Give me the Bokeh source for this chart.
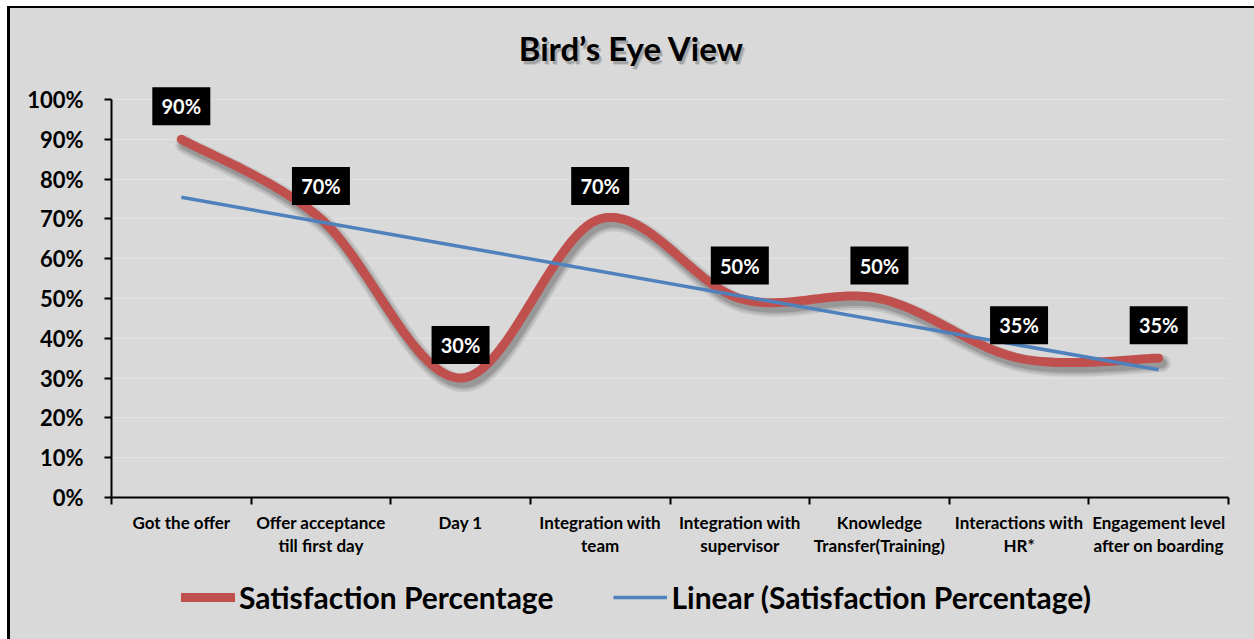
import numpy as np
from bokeh.plotting import figure
from bokeh.layouts import column
from bokeh.models import (ColumnDataSource, Range1d, FixedTicker, PrintfTickFormatter,
                          Legend, LegendItem)
from bokeh.core.properties import value
from bokeh.embed import file_html
from bokeh.resources import INLINE

# ---------------- data ----------------
categories = ["Got the offer", "Offer acceptance\ntill first day", "Day 1",
              "Integration with\nteam", "Integration with\nsupervisor",
              "Knowledge\nTransfer(Training)", "Interactions with\nHR*",
              "Engagement level\nafter on boarding"]
satisfaction = [90, 70, 30, 70, 50, 50, 35, 35]
y_ticks = [0, 10, 20, 30, 40, 50, 60, 70, 80, 90, 100]
series_names = ["Satisfaction Percentage", "Linear (Satisfaction Percentage)"]
title_text = "Bird\u2019s Eye View"

# ---------------- style ----------------
FONT = "Lato"
BG = "#D9D9D9"
RED = "#C0504D"
BLUE = "#4F81BD"

# canvas origin on the page (after css margin + border)
PAGE_OX, PAGE_OY = 10, 8
W = 1254 - PAGE_OX
SPLIT = 580                      # page y where the legend strip starts
H_MAIN = SPLIT - PAGE_OY
H_LEG = 639 - SPLIT
# plot frame (page px)
F_L, F_R, F_100, F_B = 111, 1228, 99, 497
n = len(categories)
PX_X = (F_R - F_L) / n          # px per category
PX_Y = (F_B - F_100) / 100.0     # px per percent


def px_to_x(px):
    return 0.5 + (px - F_L) / PX_X


def px_to_y(py):
    return (F_B - py) / PX_Y


x = np.arange(1, n + 1, dtype=float)
y = np.array(satisfaction, dtype=float)


def excel_smooth(xs, ys, steps=40):
    pts = np.column_stack([xs, ys])
    N = len(pts)
    out = []
    for i in range(N - 1):
        p0 = pts[i - 1] if i > 0 else pts[i]
        p1, p2 = pts[i], pts[i + 1]
        p3 = pts[i + 2] if i + 2 < N else pts[i + 1]
        c1 = p1 + (p2 - p0) / 6.0
        c2 = p2 - (p3 - p1) / 6.0
        t = np.linspace(0, 1, steps)[:, None]
        seg = (1 - t) ** 3 * p1 + 3 * (1 - t) ** 2 * t * c1 + 3 * (1 - t) * t ** 2 * c2 + t ** 3 * p2
        if i > 0:
            seg = seg[1:]
        out.append(seg)
    c = np.vstack(out)
    return c[:, 0], c[:, 1]


sx, sy = excel_smooth(x, y)
slope, intercept = np.polyfit(x, y, 1)
trend_x = np.array([x[0], x[-1]])
trend_y = slope * trend_x + intercept

y_top = (F_B - PAGE_OY) / PX_Y

p = figure(width=W, height=H_MAIN, output_backend="svg", toolbar_location=None,
           title=None,
           x_range=Range1d(0.5, n + 0.5), y_range=Range1d(0, y_top),
           min_border_left=F_L - PAGE_OX, min_border_right=W - (F_R - PAGE_OX),
           min_border_top=0, min_border_bottom=H_MAIN - (F_B - PAGE_OY))
p.background_fill_color = None
p.border_fill_color = None
p.outline_line_color = None

# ---- shadow of red line
dx = 3 / PX_X
dy = 5 / PX_Y
for w_, a_ in [(18, 0.11), (14, 0.13), (10, 0.2)]:
    p.line(sx + dx, sy - dy, line_color="#303030", line_alpha=a_, line_width=w_,
           line_cap="round", line_join="round")

red = p.line(sx, sy, line_color=RED, line_width=9, line_cap="round", line_join="round")
blue = p.line(trend_x, trend_y, line_color=BLUE, line_width=3.5)

# ---- data labels
lab_off = 33 / PX_Y
src = ColumnDataSource(dict(x=x, y=y + lab_off, t=[f"{v}%" for v in satisfaction]))
p.rect("x", "y", width=58, height=38, width_units="screen", height_units="screen",
       source=src, fill_color="black", line_color=None)
p.text("x", "y", text="t", source=src, text_color="white", text_font=value(FONT),
       text_font_style="bold", text_font_size="20px", text_align="center",
       text_baseline="middle")

# ---- title
tx, ty = px_to_x(631), px_to_y(47)
for ox, oy, a in [(2, 3, 0.25), (3, 4, 0.15)]:
    p.text([tx + ox / PX_X], [ty - oy / PX_Y], text=[title_text], text_color="#404040",
           text_alpha=a, text_font=value(FONT), text_font_style="bold",
           text_font_size="33px", text_align="center", text_baseline="middle")
p.text([tx], [ty], text=[title_text], text_color="black", text_font=value(FONT),
       text_font_style="bold", text_font_size="33px", text_align="center",
       text_baseline="middle")

# ---- axes
yt = FixedTicker(ticks=y_ticks)
p.yaxis.ticker = yt
p.yaxis.bounds = (0, 100)
p.yaxis.formatter = PrintfTickFormatter(format="%d%%")
p.yaxis.major_label_text_font = FONT
p.yaxis.major_label_text_font_style = "bold"
p.yaxis.major_label_text_font_size = "22px"
p.yaxis.major_label_text_color = "black"
p.yaxis.major_label_standoff = 21
p.yaxis.axis_line_width = 2
p.yaxis.axis_line_color = "black"
p.yaxis.major_tick_line_width = 2
p.yaxis.major_tick_line_color = "black"
p.yaxis.major_tick_out = 7
p.yaxis.major_tick_in = 0
p.yaxis.minor_tick_line_color = None

bounds = list(np.arange(0.5, n + 1, 1.0))
p.xaxis.ticker = FixedTicker(ticks=list(x), minor_ticks=bounds)
p.xaxis.major_label_overrides = {int(i): c for i, c in zip(x, categories)}
p.xaxis.major_label_text_font = FONT
p.xaxis.major_label_text_font_style = "bold"
p.xaxis.major_label_text_font_size = "17px"
p.xaxis.major_label_text_color = "black"
p.xaxis.major_label_text_line_height = 1.12
p.xaxis.major_label_standoff = 7
p.xaxis.axis_line_width = 2
p.xaxis.axis_line_color = "black"
p.xaxis.major_tick_line_color = None
p.xaxis.major_tick_out = 7
p.xaxis.major_tick_in = 0
p.xaxis.minor_tick_line_color = "black"
p.xaxis.minor_tick_line_width = 2
p.xaxis.minor_tick_out = 7
p.xaxis.minor_tick_in = 0

p.xgrid.grid_line_color = None
p.ygrid.ticker = yt
p.ygrid.grid_line_color = "#E2E2E2"
p.ygrid.grid_line_width = 1

# ---- legend strip (separate figure below the chart; its frame aligns with the chart's)
lf = figure(width=W, height=H_LEG, output_backend="svg", toolbar_location=None,
            title=None, x_axis_location=None, y_axis_location=None,
            x_range=Range1d(0.5, n + 0.5), y_range=Range1d(200, 300),
            min_border_left=0, min_border_right=0, min_border_top=0, min_border_bottom=0)
lf.background_fill_color = None
lf.border_fill_color = None
lf.outline_line_color = None
lf.grid.grid_line_color = None
# same series drawn out of view: they only give the legend its glyphs
r1 = lf.line(sx, sy, line_color=RED, line_width=9, line_cap="round")
r2 = lf.line(trend_x, trend_y, line_color=BLUE, line_width=3.5)
LEG_CY = 597
leg_h = 40
legend = Legend(items=[LegendItem(label=series_names[0], renderers=[r1]),
                       LegendItem(label=series_names[1], renderers=[r2])],
                orientation="horizontal",
                location=(181 - F_L, H_LEG - (LEG_CY - SPLIT) - leg_h // 2),
                glyph_width=54, glyph_height=leg_h, label_standoff=4, spacing=60,
                label_height=leg_h,
                padding=0, margin=0, border_line_color=None, background_fill_alpha=0,
                label_text_font=FONT, label_text_font_style="bold",
                label_text_font_size="30px", label_text_color="black")
lf.add_layout(legend, "center")

layout = column(p, lf, spacing=0,
                styles={"margin-left": "7px", "margin-top": "6px",
                        "background-color": BG,
                        "border-left": "3px solid black", "border-top": "2px solid black"})

open("out.html", "w").write(file_html(layout, INLINE))
